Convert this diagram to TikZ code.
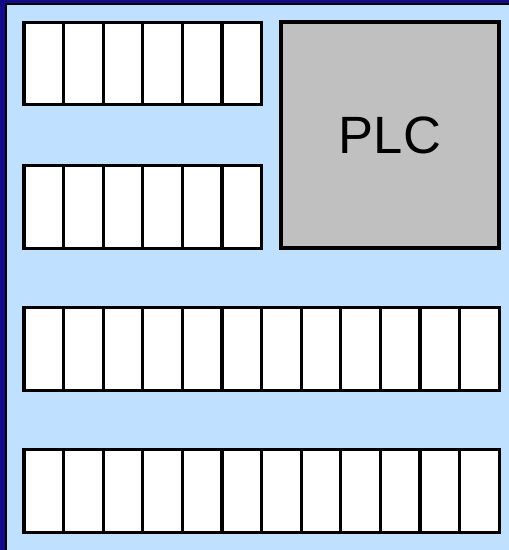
\documentclass[tikz,border=0pt]{standalone}
\usepackage{fontspec}
\setmainfont{Liberation Sans}
\definecolor{frameblue}{RGB}{20,10,140}
\definecolor{panelblue}{RGB}{192,224,255}
\definecolor{plcgray}{RGB}{192,192,192}
\begin{document}
\begin{tikzpicture}[x=1pt,y=-1pt,
  cell/.style={draw=black,fill=white,line width=3.2pt,inner sep=0pt,
    minimum width=39.6pt,minimum height=82.5pt,anchor=center},
  plcbox/.style={draw=black,fill=plcgray,line width=3.2pt,inner sep=0pt,
    minimum width=218pt,minimum height=226pt,font=\fontsize{52.5}{60}\selectfont}]
\useasboundingbox (0,0) rectangle (509,550);
\fill[frameblue] (0,0) rectangle (509,550);
\fill[panelblue] (5.5,3.5) rectangle (509,550);
\draw[black,line width=2pt] (5.5,550) -- (5.5,3.5) -- (509,3.5);
% rows of cells
\foreach \r/\y/\n in {1/63.5/6, 2/207/6, 3/349/12, 4/491/12}{
  \foreach \c in {1,...,\n}{
    \node[cell] (r\r c\c) at ({24+39.6*(\c-0.5)},\y) {};
  }
}
\node[plcbox] (plc) at (390,135) {PLC};
\end{tikzpicture}
\end{document}
